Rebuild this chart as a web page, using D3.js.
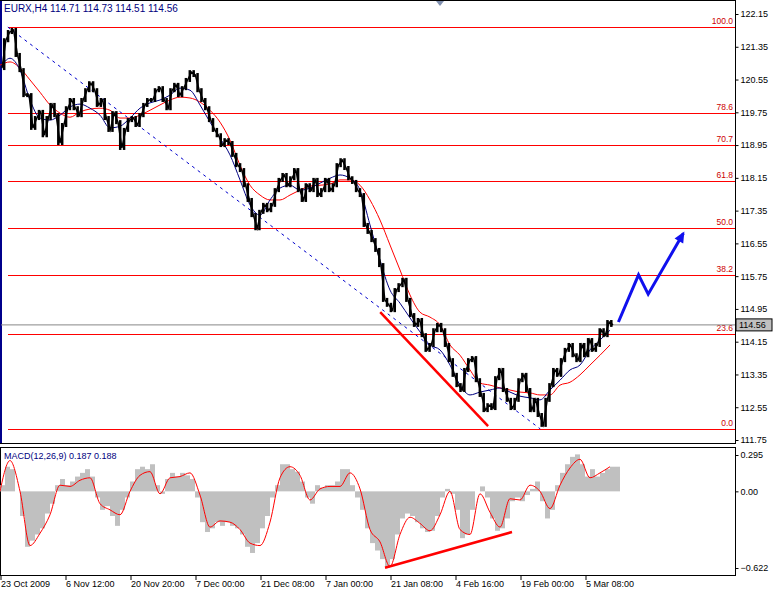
<!DOCTYPE html>
<html><head><meta charset="utf-8">
<script src="https://cdn.jsdelivr.net/npm/d3@7"></script>
<style>body{margin:0;background:#fff}svg{display:block;font-family:"Liberation Sans",Arial,sans-serif}</style>
</head><body><div id="chart"></div>
<script>
// price samples (close), evenly spaced across the chart
const closes = [120.83,121.51,121.71,121.76,121.15,120.78,120.17,120.17,119.37,119.61,119.76,119.19,119.61,119.93,119.68,119.00,119.44,119.85,120.05,119.85,
119.68,120.05,120.29,120.46,120.29,119.93,120.05,119.61,119.32,119.73,119.51,118.88,119.32,119.56,119.61,119.44,119.68,119.93,120.05,120.05,
120.29,120.34,120.05,119.85,120.29,120.42,120.17,120.34,120.54,120.73,120.66,120.29,120.05,119.85,119.56,119.32,119.19,118.95,119.07,119.00,
118.71,118.46,118.34,117.97,117.61,117.24,116.92,117.32,117.49,117.36,117.49,117.85,118.10,118.22,117.97,118.14,118.34,117.85,117.61,117.97,
117.85,118.10,117.73,117.85,118.10,117.85,117.97,118.46,118.58,118.39,118.14,118.05,117.85,
117.73,117.00,116.83,116.63,116.39,116.02,115.17,115.05,114.92,115.41,115.53,115.66,115.17,114.80,114.56,114.68,114.31,113.95,114.07,114.43,
114.56,114.43,114.07,113.70,113.34,113.09,112.97,113.46,113.70,113.75,113.21,112.85,112.48,112.60,112.53,113.26,113.46,112.97,112.73,112.53,
112.73,113.21,113.34,112.97,112.48,112.73,112.36,112.12,112.73,113.09,113.46,113.34,113.70,113.95,114.07,113.82,113.70,114.07,113.82,114.19,
113.95,114.07,114.43,114.31,114.63,114.56];
// moving averages, one value every 10 px of chart
const maSlow = [120.90,120.98,120.83,120.54,120.24,119.93,119.73,119.63,119.76,119.83,119.85,119.80,119.61,119.61,119.68,119.80,119.93,120.05,120.12,120.10,
120.00,119.80,119.51,119.07,118.46,117.97,117.73,117.61,117.61,117.73,117.85,117.95,117.97,118.00,118.10,118.10,117.97,117.61,117.12,116.51,
115.90,115.29,114.87,114.75,114.56,114.07,113.82,113.46,113.14,113.09,113.02,112.97,112.92,112.90,112.85,112.85,113.09,113.16,113.34,113.58,113.82,114.07];
const maFast = [120.83,121.07,120.78,120.05,119.61,119.56,119.68,119.88,119.95,119.85,119.68,119.37,119.41,119.61,119.85,119.98,120.05,120.17,120.34,120.29,
119.93,119.51,119.12,118.71,118.10,117.49,117.24,117.61,117.90,117.97,117.85,117.90,118.02,118.14,118.22,118.14,117.85,117.00,116.14,115.41,
115.09,114.73,114.39,114.07,113.95,113.58,113.09,112.85,112.92,112.97,113.02,112.92,112.82,112.78,112.73,112.97,113.21,113.46,113.58,113.95,114.19,114.43];
// MACD histogram every 5 px, signal every 10 px
const macdHist = [0.05,0.20,0.18,0.00,-0.20,-0.45,-0.40,-0.35,-0.30,-0.18,-0.10,0.05,0.10,0.05,0.08,0.12,0.15,0.18,0.12,-0.05,
-0.15,-0.12,-0.20,-0.28,-0.15,-0.05,0.08,0.18,0.20,0.18,0.22,0.05,-0.02,0.10,0.15,0.12,0.15,0.13,0.10,-0.05,
-0.25,-0.33,-0.30,-0.25,-0.28,-0.25,-0.28,-0.30,-0.35,-0.45,-0.50,-0.42,-0.30,-0.20,-0.05,0.05,0.22,0.22,0.18,0.16,
0.08,-0.05,-0.10,0.05,0.03,0.05,0.05,0.08,0.18,0.18,0.05,-0.05,-0.15,-0.30,-0.42,-0.48,-0.55,-0.62,-0.55,-0.35,
-0.22,-0.18,-0.20,-0.25,-0.30,-0.33,-0.32,-0.20,-0.05,0.02,-0.02,-0.15,-0.38,-0.35,-0.15,0.00,0.04,-0.05,-0.22,-0.32,
-0.30,-0.22,-0.08,-0.05,-0.08,-0.03,0.02,0.08,-0.08,-0.22,-0.15,0.05,0.15,0.22,0.28,0.30,0.22,0.12,0.18,0.12,
0.15,0.18,0.20,0.20];
const macdSignal = [0.00,0.25,0.00,-0.44,-0.34,-0.19,0.05,0.04,0.09,0.11,-0.10,-0.15,-0.19,0.00,0.13,0.16,-0.02,0.11,0.12,0.15,
-0.03,-0.29,-0.24,-0.25,-0.31,-0.42,-0.44,-0.25,0.11,0.20,0.13,-0.07,0.02,0.04,0.04,0.15,0.02,-0.31,-0.41,-0.61,
-0.35,-0.21,-0.26,-0.32,-0.19,0.00,-0.31,-0.35,-0.02,-0.17,-0.29,-0.06,-0.07,0.05,0.00,-0.14,0.05,0.19,0.26,0.11,0.15,0.20];

const priceTicks = [122.15,121.35,120.55,119.75,118.95,118.15,117.35,116.55,115.75,114.95,114.15,113.35,112.55,111.75];
const fibLevels = ["100.0","78.6","70.7","61.8","50.0","38.2","23.6","0.0"];
const fibHigh = 121.83, fibLow = 112.02;
const dateLabels = ["23 Oct 2009","6 Nov 12:00","20 Nov 20:00","7 Dec 00:00","21 Dec 08:00","7 Jan 00:00","21 Jan 08:00","4 Feb 16:00","19 Feb 00:00","5 Mar 08:00"];
const lastPrice = 114.56;
// drawn objects: [sample index, price]
const dashTrend = [[1.5,121.83],[139.2,112.02]];
const redTrend = [[97.8,114.87],[125.7,112.09]];
const blueArrow = [[159.4,114.63],[164.6,115.78],[167.1,115.31],[176.2,116.80]];
const macdTrend = [[385,-0.62],[512,-0.33]];

const W = 774, H = 590, R = 735;
const svg = d3.select('#chart').append('svg').attr('width', W).attr('height', H);

const x = d3.scaleLinear().domain([0, closes.length - 1]).range([2, 613]);
const xPx = d3.scaleLinear().domain([0, 615]).range([0, 615]);
const y = d3.scaleLinear().domain([111.75, 122.15]).range([440, 14]);
const ym = d3.scaleLinear().domain([-0.622, 0.295]).range([568, 455]);

// panel frames
svg.append('rect').attr('x', 0.5).attr('y', 0.5).attr('width', R).attr('height', 443).attr('fill', 'none').attr('stroke', '#000');
svg.append('rect').attr('x', 0.5).attr('y', 447.5).attr('width', R).attr('height', 128).attr('fill', 'none').attr('stroke', '#000');
svg.append('line').attr('x1', 1).attr('x2', 1).attr('y1', 1).attr('y2', 443).attr('stroke', '#00008b').attr('stroke-width', 2);
svg.append('path').attr('d', 'M436,1 L444,1 L440,6 Z').attr('fill', '#8090b0');

// right price axis
const axR = svg.append('g').attr('transform', `translate(${R + 0.5},0)`)
  .call(d3.axisRight(y).tickValues(priceTicks).tickFormat(d3.format('.2f')).tickSize(3).tickPadding(2));
axR.select('.domain').remove();
axR.selectAll('text').attr('font-size', 9).attr('fill', '#000');

// fibonacci lines
fibLevels.forEach(l => {
  const p = fibLow + (fibHigh - fibLow) * (+l / 100);
  svg.append('line').attr('x1', 8).attr('x2', R).attr('y1', Math.round(y(p)) + 0.5).attr('y2', Math.round(y(p)) + 0.5).attr('stroke', '#f00');
  svg.append('text').attr('x', R - 2).attr('y', Math.round(y(p)) - 3).attr('text-anchor', 'end')
    .attr('font-size', 8.5).attr('fill', '#c00').text(l);
});

// current price line
svg.append('line').attr('x1', 1).attr('x2', R).attr('y1', y(lastPrice)).attr('y2', y(lastPrice)).attr('stroke', '#888');
svg.append('rect').attr('x', R + 1).attr('y', y(lastPrice) - 6).attr('width', 36).attr('height', 12).attr('fill', '#c0c0c0').attr('stroke', '#000');
svg.append('text').attr('x', R + 4).attr('y', y(lastPrice) + 3.5).attr('font-size', 9).text(lastPrice.toFixed(2));

// dashed trendline
svg.append('line').attr('x1', x(dashTrend[0][0])).attr('y1', y(dashTrend[0][1]))
  .attr('x2', x(dashTrend[1][0])).attr('y2', y(dashTrend[1][1]))
  .attr('stroke', '#0000cc').attr('stroke-dasharray', '3,4');

// moving averages
const maLine = d3.line().x((d, i) => xPx(i * 10)).y(d => y(d)).curve(d3.curveMonotoneX);
svg.append('path').attr('d', maLine(maSlow)).attr('fill', 'none').attr('stroke', '#f00');
svg.append('path').attr('d', maLine(maFast)).attr('fill', 'none').attr('stroke', '#000080');

// price bars: vertical range between neighbouring samples
svg.append('g').selectAll('rect').data(closes.slice(1)).join('rect')
  .attr('x', (d, i) => x(i + 0.5) - 1)
  .attr('y', (d, i) => y(Math.max(d, closes[i])) - 2)
  .attr('width', 2.5)
  .attr('height', (d, i) => Math.abs(y(d) - y(closes[i])) + 4)
  .attr('fill', '#000');
svg.append('path').attr('d', d3.line().x((d, i) => x(i)).y(d => y(d))(closes))
  .attr('fill', 'none').attr('stroke', '#000').attr('stroke-width', 1.5);

// red support trendline
svg.append('line').attr('x1', x(redTrend[0][0])).attr('y1', y(redTrend[0][1]))
  .attr('x2', x(redTrend[1][0])).attr('y2', y(redTrend[1][1])).attr('stroke', '#f00').attr('stroke-width', 2.5);

// blue projection arrow
svg.append('path').attr('d', d3.line().x(d => x(d[0])).y(d => y(d[1]))(blueArrow))
  .attr('fill', 'none').attr('stroke', '#1010ee').attr('stroke-width', 3);
const a = blueArrow[blueArrow.length - 1], b = blueArrow[blueArrow.length - 2];
const ang = Math.atan2(y(a[1]) - y(b[1]), x(a[0]) - x(b[0]));
svg.append('path').attr('transform', `translate(${x(a[0])},${y(a[1])}) rotate(${ang * 180 / Math.PI})`)
  .attr('d', 'M2,0 L-9,-5 L-9,5 Z').attr('fill', '#1010ee');

svg.append('text').attr('x', 4).attr('y', 12).attr('font-size', 10).attr('fill', '#000080')
  .text('EURX,H4  114.71 114.73 114.51 114.56');

// MACD panel
const z = ym(0);
svg.append('g').selectAll('rect').data(macdHist).join('rect')
  .attr('x', (d, i) => xPx(i * 5)).attr('width', 5)
  .attr('y', d => Math.min(ym(d), z)).attr('height', d => Math.abs(ym(d) - z))
  .attr('fill', '#c0c0c0');
svg.append('path').attr('d', d3.line().x((d, i) => xPx(i * 10)).y(d => ym(d)).curve(d3.curveMonotoneX)(macdSignal))
  .attr('fill', 'none').attr('stroke', '#f00');
svg.append('line').attr('x1', xPx(macdTrend[0][0])).attr('y1', ym(macdTrend[0][1]))
  .attr('x2', xPx(macdTrend[1][0])).attr('y2', ym(macdTrend[1][1])).attr('stroke', '#f00').attr('stroke-width', 2.5);
svg.append('text').attr('x', 4).attr('y', 459).attr('font-size', 9).attr('fill', '#000080').text('MACD(12,26,9) 0.187 0.188');

const axM = svg.append('g').attr('transform', `translate(${R + 0.5},0)`)
  .call(d3.axisRight(ym).tickValues([0.295, 0, -0.622]).tickFormat(d => d === 0 ? '0.00' : d3.format('.3f')(d)).tickSize(3).tickPadding(2));
axM.select('.domain').remove();
axM.selectAll('text').attr('font-size', 9).attr('fill', '#000');

// date axis
const dateX = d3.scalePoint().domain(dateLabels).range([0, 585]);
const axB = svg.append('g').attr('transform', 'translate(0.5,576)')
  .call(d3.axisBottom(dateX).tickSize(4).tickPadding(1));
axB.select('.domain').remove();
axB.selectAll('text').attr('font-size', 9).attr('fill', '#000').attr('text-anchor', 'start').attr('dx', 0);
</script></body></html>
